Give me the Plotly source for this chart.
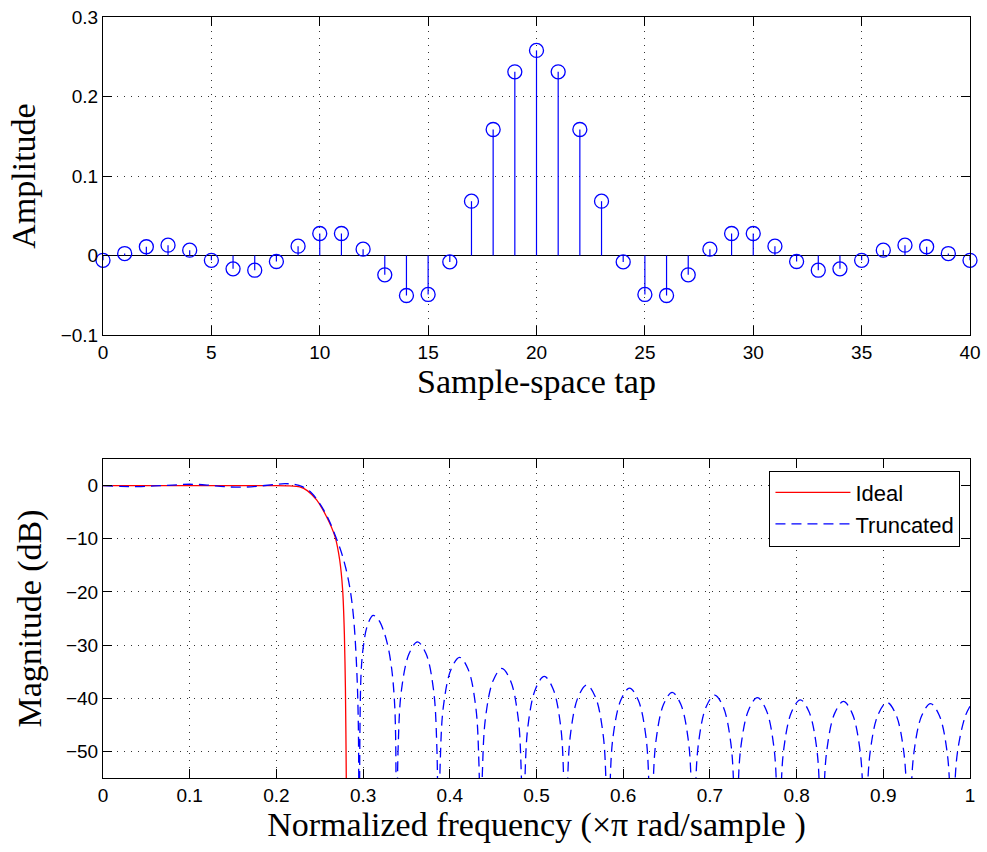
import plotly.graph_objects as go
from plotly.subplots import make_subplots

# ---- Top: sample-space taps ----
taps = list(range(41))
amplitude = [-0.006, 0.0025, 0.011, 0.013, 0.0067, -0.006, -0.0168, -0.0185, -0.0075, 0.0117,
             0.0277, 0.0277, 0.008, -0.0243, -0.0503, -0.049, -0.008, 0.0683, 0.1585, 0.231,
             0.258, 0.231, 0.1585, 0.0683, -0.008, -0.049, -0.0503, -0.0243, 0.008, 0.0277,
             0.0277, 0.0117, -0.0075, -0.0185, -0.0168, -0.006, 0.0067, 0.013, 0.011, 0.0025,
             -0.006]

# ---- Bottom: magnitude responses ----
ideal_f = [0, 0.1, 0.2, 0.215, 0.227, 0.236, 0.2464, 0.258, 0.2676, 0.273, 0.2764, 0.2784,
           0.2796, 0.2806, 0.2812]
ideal_db = [0, 0, 0, -0.05, -0.25, -1.0, -2.7, -5.9, -9.6, -14, -19.6, -27.9, -38, -55, -80]

trunc_f = [
    0, 0.02, 0.04, 0.06, 0.08, 0.10, 0.12, 0.14, 0.16, 0.18, 0.20, 0.21, 0.22, 0.23, 0.24,
    0.25, 0.26, 0.27, 0.275, 0.28, 0.285, 0.289, 0.2925, 0.2945, 0.2955,
    0.2975, 0.3005, 0.305, 0.3115, 0.318, 0.324, 0.329, 0.333, 0.336, 0.3375, 0.3385,
    0.3404, 0.3443, 0.3531, 0.3628, 0.3725, 0.3812, 0.3851, 0.3870,
    0.3889, 0.3928, 0.4016, 0.4113, 0.4210, 0.4297, 0.4336, 0.4355,
    0.4375, 0.4414, 0.4502, 0.4600, 0.4698, 0.4786, 0.4825, 0.4845,
    0.4865, 0.4904, 0.4992, 0.5090, 0.5188, 0.5276, 0.5315, 0.5335,
    0.5355, 0.5394, 0.5482, 0.5580, 0.5678, 0.5766, 0.5805, 0.5825,
    0.5845, 0.5884, 0.5974, 0.6073, 0.6172, 0.6261, 0.6300, 0.6320,
    0.6340, 0.6379, 0.6467, 0.6565, 0.6663, 0.6751, 0.6790, 0.6810,
    0.6830, 0.6869, 0.6957, 0.7055, 0.7153, 0.7241, 0.7280, 0.7300,
    0.7320, 0.7359, 0.7449, 0.7548, 0.7647, 0.7736, 0.7775, 0.7795,
    0.7815, 0.7854, 0.7944, 0.8043, 0.8142, 0.8231, 0.8270, 0.8290,
    0.8310, 0.8350, 0.8440, 0.8540, 0.8640, 0.8730, 0.8770, 0.8790,
    0.8810, 0.8851, 0.8942, 0.9043, 0.9144, 0.9234, 0.9275, 0.9295,
    0.9315, 0.9355, 0.9445, 0.9545, 0.9645, 0.9735, 0.9775, 0.9795,
    0.9815, 0.9855, 0.9945, 1.0]
trunc_db = [
    0, -0.15, -0.2, -0.05, 0.1, 0.25, 0.1, -0.2, -0.3, -0.1, 0.25, 0.35, 0.25, -0.2, -1.3,
    -3.4, -6.3, -10.3, -12.6, -15.5, -19.5, -24.8, -34, -45, -80,
    -36, -30, -26.3, -24.4, -25.3, -27.5, -30.5, -34.5, -40, -47, -80,
    -49.4, -38.4, -31.6, -29.4, -31.6, -38.4, -49.4, -80,
    -52.3, -41.3, -34.5, -32.3, -34.5, -41.3, -52.3, -80,
    -54.4, -43.4, -36.6, -34.4, -36.6, -43.4, -54.4, -80,
    -55.9, -44.9, -38.1, -35.9, -38.1, -44.9, -55.9, -80,
    -57.5, -46.5, -39.7, -37.5, -39.7, -46.5, -57.5, -80,
    -58.1, -47.1, -40.3, -38.1, -40.3, -47.1, -58.1, -80,
    -58.9, -47.9, -41.1, -38.9, -41.1, -47.9, -58.9, -80,
    -59.4, -48.4, -41.6, -39.4, -41.6, -48.4, -59.4, -80,
    -59.9, -48.9, -42.1, -39.9, -42.1, -48.9, -59.9, -80,
    -60.3, -49.3, -42.5, -40.3, -42.5, -49.3, -60.3, -80,
    -60.6, -49.6, -42.8, -40.6, -42.8, -49.6, -60.6, -80,
    -60.8, -49.8, -43.0, -40.8, -43.0, -49.8, -60.8, -80,
    -61.0, -50.0, -43.2, -41.0, -43.2, -50.0, -61.0, -80,
    -61.2, -50.2, -43.4, -41.5]

top_yticks = [-0.1, 0, 0.1, 0.2, 0.3]
top_yticktext = ["\u22120.1", "0", "0.1", "0.2", "0.3"]
top_xticks = [0, 5, 10, 15, 20, 25, 30, 35, 40]
bot_xticks = [0, 0.1, 0.2, 0.3, 0.4, 0.5, 0.6, 0.7, 0.8, 0.9, 1]
bot_xticktext = ["0", "0.1", "0.2", "0.3", "0.4", "0.5", "0.6", "0.7", "0.8", "0.9", "1"]
bot_yticks = [-50, -40, -30, -20, -10, 0]
bot_yticktext = ["\u221250", "\u221240", "\u221230", "\u221220", "\u221210", "0"]

BLUE = "#0000FF"
RED = "#FF0000"
TICKFONT = dict(family="Liberation Sans, Arial, sans-serif", size=19, color="black")
TITLEFONT = dict(family="Liberation Serif, Times New Roman, serif", size=34, color="black")

fig = make_subplots(rows=2, cols=1, vertical_spacing=0.1)

# stems built from the data arrays
stem_x, stem_y = [], []
for n, v in zip(taps, amplitude):
    stem_x += [n, n, None]
    stem_y += [0, v, None]
fig.add_trace(go.Scatter(x=stem_x, y=stem_y, mode="lines", line=dict(color=BLUE, width=1.2),
                         showlegend=False, hoverinfo="skip"), row=1, col=1)
fig.add_trace(go.Scatter(x=taps, y=amplitude, mode="markers",
                         marker=dict(symbol="circle-open", size=14, color=BLUE,
                                     line=dict(color=BLUE, width=1.3)),
                         cliponaxis=False, showlegend=False), row=1, col=1)

fig.add_trace(go.Scatter(x=ideal_f, y=ideal_db, mode="lines", name="Ideal",
                         line=dict(color=RED, width=1.3, shape="spline", smoothing=0.6)),
              row=2, col=1)
fig.add_trace(go.Scatter(x=trunc_f, y=trunc_db, mode="lines", name="Truncated",
                         line=dict(color=BLUE, width=1.3, dash="10px,6px",
                                   shape="spline", smoothing=1.0)),
              row=2, col=1)

axis_common = dict(showline=True, linecolor="black", linewidth=1, mirror="ticks",
                   ticks="inside", ticklen=9, tickcolor="black", tickwidth=1,
                   showgrid=True, gridcolor="#333333", gridwidth=1, griddash="1px,6px",
                   tickfont=TICKFONT, title_font=TITLEFONT, automargin=False)

fig.update_xaxes(**axis_common)
fig.update_yaxes(**axis_common)

fig.update_xaxes(range=[0, 40], tickvals=top_xticks, zeroline=False,
                 title=dict(text="Sample-space tap", standoff=6),
                 domain=[0, 1], row=1, col=1)
fig.update_yaxes(range=[-0.1, 0.3], tickvals=top_yticks, ticktext=top_yticktext,
                 zeroline=True, zerolinecolor="black", zerolinewidth=1,
                 title=dict(text="Amplitude", standoff=14),
                 domain=[0.5821, 1.0], row=1, col=1)
fig.update_xaxes(range=[0, 1], tickvals=bot_xticks, ticktext=bot_xticktext, zeroline=False,
                 title=dict(text="Normalized frequency (\u00d7\u03c0 rad/sample )", standoff=6),
                 domain=[0, 1], row=2, col=1)
fig.update_yaxes(range=[-55, 5], tickvals=bot_yticks, ticktext=bot_yticktext, zeroline=False,
                 title=dict(text="Magnitude (dB)", standoff=14),
                 domain=[0.0, 0.4192], row=2, col=1)

fig.update_layout(
    template="none",
    width=987, height=852,
    margin=dict(l=103, r=17, t=17, b=74),
    paper_bgcolor="white", plot_bgcolor="white",
    legend=dict(x=0.989, y=0.404, xanchor="right", yanchor="top",
                bgcolor="white", bordercolor="black", borderwidth=1,
                font=dict(family="Liberation Sans, Arial, sans-serif", size=22, color="black"),
                itemwidth=75, tracegroupgap=0),
)

fig.write_html("out.html")
